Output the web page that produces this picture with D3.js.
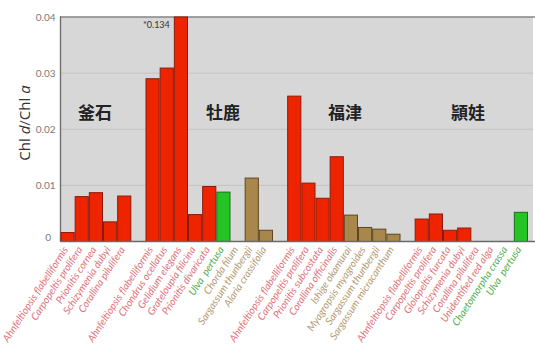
<!DOCTYPE html>
<html>
<head>
<meta charset="utf-8">
<script src="https://cdn.jsdelivr.net/npm/d3@7"></script>
<style>
  body { margin: 0; background: #fff; }
  svg { display: block; }
</style>
</head>
<body>
<div id="chart"></div>
<script>
// Sites (one group of bars each)
const sites = ['釜石', '牡鹿', '福津', '頴娃'];
const groupSizes = [5, 9, 8, 8];

const species = [
  'Ahnfeltiopsis flabelliformis', 'Carpopeltis prolifera', 'Prionitis cornea', 'Schizymenia dubyi', 'Corallina pilulifera',
  'Ahnfeltiopsis flabelliformis', 'Chondrus ocellatus', 'Gelidium elegans', 'Grateloupia filicina', 'Prionitis divaricata',
  'Ulva  pertusa', 'Chorda filum', 'Sargassum thunbergii', 'Alaria crassifolia',
  'Ahnfeltiopsis flabelliformis', 'Carpopeltis prolifera', 'Prionitis subcostata', 'Corallina officinalis',
  'Ishige okamurai', 'Myagropsis myagroides', 'Sargassum thunbergii', 'Sargassum micracanthum',
  'Ahnfeltiopsis flabelliformis', 'Carpopeltis prolifera', 'Gloiopeltis furcata', 'Schizymenia dubyi',
  'Corallina pilulifera', 'Unidentified red alga', 'Chaetomorpha crassa', 'Ulva  pertusa'
];

// r = red alga, b = brown alga, g = green alga
const algaType = [
  'r', 'r', 'r', 'r', 'r',
  'r', 'r', 'r', 'r', 'r', 'g', 'b', 'b', 'b',
  'r', 'r', 'r', 'r', 'b', 'b', 'b', 'b',
  'r', 'r', 'r', 'r', 'r', 'r', 'g', 'g'
];

const chlRatio = [
  0.0016, 0.0080, 0.0087, 0.0035, 0.0081,
  0.0290, 0.0309, 0.134, 0.0048, 0.0098, 0.0088, 0, 0.0113, 0.0020,
  0.0259, 0.0104, 0.0077, 0.0151, 0.0047, 0.0025, 0.0022, 0.0013,
  0.0040, 0.0049, 0.0020, 0.0024, 0, 0, 0, 0.0052
];

const yTicks = [0, 0.01, 0.02, 0.03, 0.04];

const fillColor = { r: '#ee2400', b: '#a9874c', g: '#24c424' };
const strokeColor = { r: '#8c1a0c', b: '#5e4522', g: '#1d6e1d' };
const labelColor = { r: '#e0727a', b: '#b39a72', g: '#52ad52' };

const width = 535, height = 347;
const margin = { top: 17, right: 7, bottom: 106, left: 60.5 };

// build slots: each group followed by an empty gap slot
const rows = [];
const slots = [];
let k = 0;
groupSizes.forEach((n, gi) => {
  for (let i = 0; i < n; i++, k++) {
    const key = 's' + k;
    rows.push({ key, name: species[k], value: chlRatio[k], type: algaType[k], site: gi });
    slots.push(key);
  }
  if (gi < groupSizes.length - 1) slots.push('gap' + gi);
});

const svg = d3.select('#chart').append('svg')
  .attr('width', width)
  .attr('height', height);

const x = d3.scaleBand()
  .domain(slots)
  .range([margin.left, 528])
  .padding(0);

const y = d3.scaleLinear()
  .domain([0, 0.04])
  .range([241.5, margin.top])
  .clamp(true);

// plot background
svg.append('rect')
  .attr('x', margin.left)
  .attr('y', margin.top)
  .attr('width', width - 2 - margin.left)
  .attr('height', y(0) - margin.top)
  .attr('fill', '#d7d7d7');

// grid lines
svg.append('g')
  .selectAll('line')
  .data(yTicks.filter(t => t > 0 && t < 0.04))
  .join('line')
  .attr('x1', margin.left)
  .attr('x2', width - 2)
  .attr('y1', d => y(d))
  .attr('y2', d => y(d))
  .attr('stroke', '#c3c3c3')
  .attr('stroke-width', 1);

// top border
svg.append('line')
  .attr('x1', margin.left).attr('x2', width)
  .attr('y1', y(0.04)).attr('y2', y(0.04))
  .attr('stroke', '#858585').attr('stroke-width', 1.6);

// left border
svg.append('line')
  .attr('x1', margin.left).attr('x2', margin.left)
  .attr('y1', y(0.04) - 0.8).attr('y2', y(0))
  .attr('stroke', '#6f6f6f').attr('stroke-width', 1.4);

// bars
svg.append('g')
  .selectAll('rect')
  .data(rows.filter(d => d.value > 0))
  .join('rect')
  .attr('x', d => x(d.key) + 0.5)
  .attr('y', d => y(d.value))
  .attr('width', x.bandwidth() - 1)
  .attr('height', d => y(0) - y(d.value))
  .attr('fill', d => fillColor[d.type])
  .attr('stroke', d => strokeColor[d.type])
  .attr('stroke-width', 1);

// baseline
svg.append('line')
  .attr('x1', margin.left).attr('x2', width)
  .attr('y1', y(0)).attr('y2', y(0))
  .attr('stroke', '#6a6a6a').attr('stroke-width', 1.6);

// y tick labels
svg.append('g')
  .selectAll('text')
  .data(yTicks)
  .join('text')
  .attr('x', d => d === 0 ? 51 : 55.5)
  .attr('y', d => d === 0 ? y(d) - 4 : y(d))
  .attr('dy', '0.35em')
  .attr('text-anchor', 'end')
  .attr('font-family', 'Lato, "Open Sans", sans-serif')
  .attr('font-size', 10)
  .attr('fill', '#7a7a7a')
  .text(d => d === 0 ? '0' : d3.format('.2f')(d));

// y axis title
const yTitle = svg.append('text')
  .attr('transform', 'translate(30,123) rotate(-90)')
  .attr('text-anchor', 'middle')
  .attr('font-family', '"Open Sans", Lato, sans-serif')
  .attr('font-size', 15)
  .attr('fill', '#333');
yTitle.append('tspan').text('Chl ');
yTitle.append('tspan').attr('font-style', 'italic').text('d');
yTitle.append('tspan').text('/Chl ');
yTitle.append('tspan').attr('font-style', 'italic').text('a');

// annotation for the clipped bar
const clipped = rows.find(d => d.value > 0.04);
svg.append('text')
  .attr('x', x(clipped.key) - 4)
  .attr('y', 25)
  .attr('dy', '0.35em')
  .attr('text-anchor', 'end')
  .attr('font-family', 'Lato, sans-serif')
  .attr('font-size', 9)
  .attr('fill', '#333')
  .text('*' + clipped.value);

// site labels
const siteCenters = [95, 223, 345, 468];
svg.append('g')
  .selectAll('text')
  .data(sites)
  .join('text')
  .attr('x', (d, i) => siteCenters[i])
  .attr('y', 113)
  .attr('dy', '0.35em')
  .attr('text-anchor', 'middle')
  .attr('font-family', '"Noto Sans CJK JP", sans-serif')
  .attr('font-weight', 'bold')
  .attr('font-size', 17)
  .attr('fill', '#222')
  .text(d => d);

// species labels
svg.append('g')
  .selectAll('text')
  .data(rows)
  .join('text')
  .attr('transform', d => `translate(${x(d.key) + x.bandwidth() / 2 + 1},${y(0) + 8}) rotate(-57)`)
  .attr('text-anchor', 'end')
  .attr('font-family', 'Lato, sans-serif')
  .attr('font-style', 'italic')
  .attr('font-size', 10.2)
  .attr('fill', d => labelColor[d.type])
  .style('white-space', 'pre')
  .text(d => d.name);
</script>
</body>
</html>
